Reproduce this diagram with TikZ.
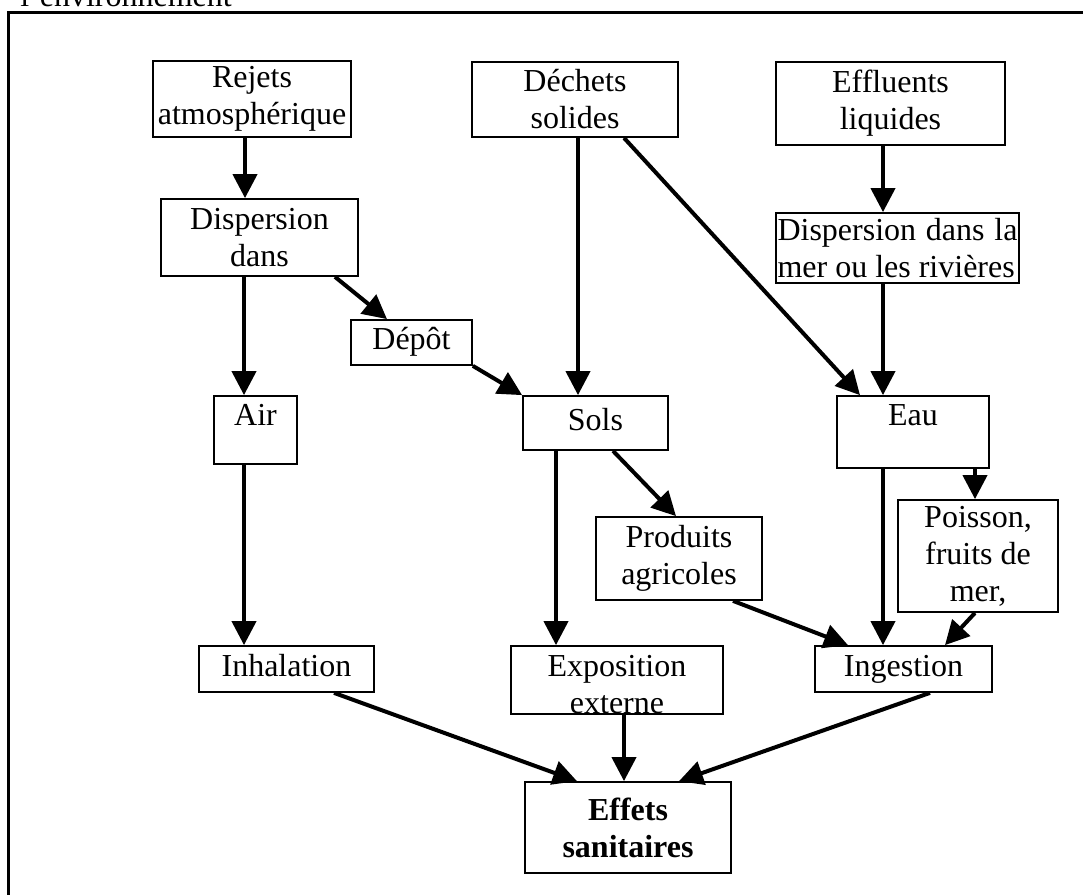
\documentclass[tikz,border=0pt]{standalone}
\usepackage{fontspec}
\setmainfont{Liberation Serif}
\usetikzlibrary{arrows.meta}
\begin{document}
\begin{tikzpicture}[x=0.75pt,y=-0.75pt,
  txt/.style={inner sep=0pt, align=center, font=\fontsize{24}{27.75}\selectfont},
  bx/.style={txt, draw, line width=1.3pt},
  one/.style={text height=16.8pt, text depth=6pt},
  low/.style={execute at begin node=\rule{0pt}{22pt}},
  con/.style={line width=3pt, -{Triangle[length=18pt,width=18pt]}}
]
\useasboundingbox (0,0) rectangle (1083,895);
\begin{scope}
\clip (0,0) rectangle (1083,895);
\node[txt, anchor=base west] (title) at (20,7) {l'environnement};
\draw[line width=2pt] (8.5,900) -- (8.5,12.5) -- (1090,12.5);
\end{scope}

% boxes
\node[bx, low, minimum width=148.5pt, minimum height=57pt] (rejets) at (252,99) {Rejets\\atmosphérique};
\node[bx, minimum width=147.75pt, minimum height=57.75pt] (disp1) at (259.5,237.5) {Dispersion\\dans};
\node[bx, low, minimum width=154.5pt, minimum height=56.25pt] (dechets) at (575,99.5) {Déchets\\solides};
\node[bx, low, minimum width=171.75pt, minimum height=62.25pt] (efflu) at (890.5,103.5) {Effluents\\liquides};
\node[bx, minimum width=182.25pt, minimum height=52.5pt, text width=180pt, align=justify] (disp2) at (897.5,248) {Dispersion dans la mer ou les rivières};
\node[bx, one, minimum width=90.75pt, minimum height=33.75pt] (depot) at (411.5,342.5) {Dépôt};
\node[bx, minimum width=62.25pt, minimum height=51pt, text height=16.8pt, text depth=22.8pt] (air) at (255.5,430) {Air};
\node[bx, one, minimum width=108.75pt, minimum height=40.5pt] (sols) at (595.5,423) {Sols};
\node[bx, minimum width=114pt, minimum height=54pt, text height=16.8pt, text depth=27.3pt] (eau) at (913,432) {Eau};
\node[bx, minimum width=124.5pt, minimum height=62.25pt] (prod) at (679,558.5) {Produits\\agricoles};
\node[bx, minimum width=120pt, minimum height=84pt] (poisson) at (978,556) {Poisson,\\fruits de\\mer,};
\node[bx, one, minimum width=131.25pt, minimum height=34.5pt] (inhal) at (286.5,669) {Inhalation};
\node[bx, minimum width=159pt, minimum height=51pt] (expo) at (617,680) {};
\node[txt, anchor=north] (expoT) at (617,655) {Exposition\\externe};
\node[bx, one, minimum width=132.75pt, minimum height=34.5pt] (inges) at (903.5,669) {Ingestion};
\node[bx, minimum width=154.5pt, minimum height=68.25pt] (effets) at (628,827.5) {\bfseries Effets\\\bfseries sanitaires};

% connectors
\draw[con] (rejets.south -| 245,0) -- (disp1.north -| 245,0);
\draw[con] (disp1.south -| 244,0) -- (air.north -| 244,0);
\draw[con] (disp1.south -| 335,0) -- (depot.north -| 387,0);
\draw[con] (depot.south east) -- (sols.north west);
\draw[con] (dechets.south -| 578,0) -- (sols.north -| 578,0);
\draw[con] (dechets.south -| 624,0) -- (eau.north -| 860,0);
\draw[con] (efflu.south -| 883,0) -- (disp2.north -| 883,0);
\draw[con] (disp2.south -| 883,0) -- (eau.north -| 883,0);
\draw[con] (air.south -| 244,0) -- (inhal.north -| 244,0);
\draw[con] (sols.south -| 556,0) -- (expo.north -| 556,0);
\draw[con] (sols.south -| 613,0) -- (prod.north -| 676,0);
\draw[con] (eau.south -| 883,0) -- (inges.north -| 883,0);
\draw[con] (eau.south -| 975,0) -- (poisson.north -| 975,0);
\draw[con] (prod.south -| 733,0) -- (inges.north -| 848,0);
\draw[con] (poisson.south -| 975,0) -- (inges.north -| 945,0);
\draw[con] (inhal.south -| 334,0) -- (effets.north -| 577,0);
\draw[con] (expo.south -| 624,0) -- (effets.north -| 624,0);
\draw[con] (inges.south -| 930,0) -- (effets.north -| 679,0);
\end{tikzpicture}
\end{document}
